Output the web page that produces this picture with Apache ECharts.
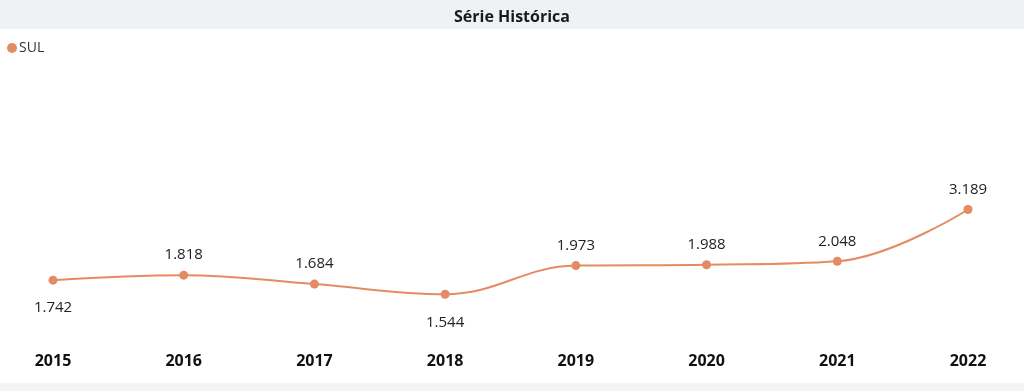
<!DOCTYPE html>
<html>
<head>
<meta charset="utf-8">
<script src="https://cdn.jsdelivr.net/npm/echarts@6/dist/echarts.min.js"></script>
<style>
html,body{margin:0;padding:0;background:#fff;}
#c{width:1024px;height:391px;}
</style>
</head>
<body>
<div id="c"></div>
<script>
const titleText = 'Série Histórica';
const seriesName = 'SUL';
const years = ['2015','2016','2017','2018','2019','2020','2021','2022'];
const values = [1742, 1818, 1684, 1544, 1973, 1988, 2048, 3189];
const labelPlacement = ['bottom','top','top','bottom','top','top','top','top'];

const fmt = v => String(v).replace(/\B(?=(\d{3})+(?!\d))/g, '.');
const FONT = '"Open Sans", "Noto Sans", sans-serif';
const COLOR = '#e38b63';

const chart = echarts.init(document.getElementById('c'), null, {renderer:'canvas'});
chart.setOption({
  animation: false,
  backgroundColor: '#ffffff',
  graphic: [
    {type:'rect', left:0, top:0, shape:{width:1024, height:29}, style:{fill:'#eef2f4'}, z:-1},
    {type:'rect', left:0, top:383, shape:{width:1024, height:8}, style:{fill:'#f3f4f5'}, z:-1}
  ],
  title: {
    text: titleText,
    left: 'center', top: 4,
    textStyle: {fontFamily: FONT, fontSize: 16, fontWeight: 'bold', color: '#1a1a1a'}
  },
  legend: {
    data: [seriesName],
    left: 2, top: 36,
    icon: 'circle', itemWidth: 10, itemHeight: 10, itemGap: 4,
    textStyle: {fontFamily: FONT, fontSize: 14, color: '#333', padding:[0,0,0,-3]}
  },
  grid: {left: 53, right: 56, top: 76, bottom: 46, containLabel: false},
  xAxis: {
    type: 'category', data: years, boundaryGap: false,
    axisLine: {show:false}, axisTick: {show:false},
    axisLabel: {fontFamily: FONT, fontSize: 16, fontWeight: 'bold', color: '#111', margin: 8}
  },
  yAxis: {
    type: 'log', logBase: 10, min: 1000, max: 10000,
    axisLine:{show:false}, axisTick:{show:false}, axisLabel:{show:false}, splitLine:{show:false}
  },
  series: [{
    name: seriesName, type: 'line', smooth: 0.4,
    data: values.map((v,i)=>({value:v, label:{position: labelPlacement[i], distance: labelPlacement[i]==='bottom' ? 16 : 8}})),
    symbol: 'circle', symbolSize: 9,
    itemStyle: {color: COLOR},
    lineStyle: {color: COLOR, width: 2},
    label: {
      show: true,
      fontFamily: FONT, fontSize: 15, color: '#222',
      formatter: p => fmt(p.value)
    }
  }]
});
</script>
</body>
</html>
